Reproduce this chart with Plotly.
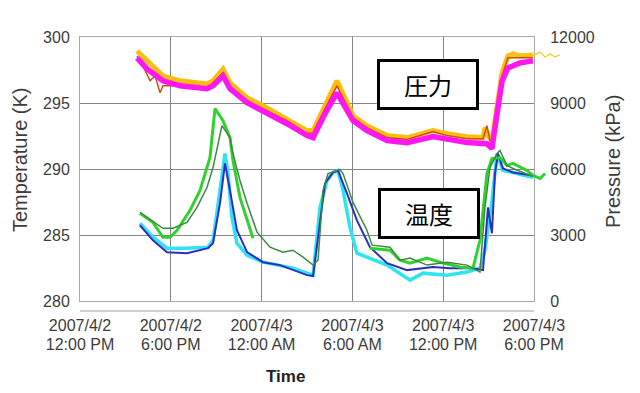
import plotly.graph_objects as go
from datetime import datetime, timedelta

BASE = datetime(2007, 4, 2, 12, 0)

# ---- axis ticks ----
tick_hours = [0, 6, 12, 18, 24, 30]
tick_dates = ["2007/4/2", "2007/4/2", "2007/4/3", "2007/4/3", "2007/4/3", "2007/4/3"]
tick_times = ["12:00 PM", "6:00 PM", "12:00 AM", "6:00 AM", "12:00 PM", "6:00 PM"]
temp_ticks = [280, 285, 290, 295, 300]
pres_ticks = [0, 3000, 6000, 9000, 12000]
pres_labels = ["0", "3000", "6000", "9000", "12000"]

# ---- temperature series (hours since 2007/4/2 12:00 PM, K) ----
blue_h = [3.96, 4.82, 5.75, 7.07, 8.46, 8.79, 9.25, 9.58, 9.91, 10.37, 11.04, 12.09, 13.22, 14.07, 15.00,
          15.40, 15.86, 16.19, 16.72, 17.05, 17.64, 18.30, 19.16, 20.29, 21.61, 23.33, 24.45, 25.97, 26.63,
          26.96, 27.22, 27.42, 27.62, 27.95, 28.61, 29.93]
blue_t = [285.74, 284.60, 283.70, 283.62, 284.00, 284.38, 287.40, 290.42, 288.38, 285.36, 283.70, 282.94,
          282.72, 282.34, 281.96, 281.89, 285.89, 288.91, 289.74, 289.89, 288.15, 286.11, 284.08, 282.87,
          282.34, 282.57, 282.49, 282.49, 282.34, 287.09, 285.13, 289.66, 291.17, 290.04, 289.74, 289.51]

cyan_h = [3.96, 4.82, 5.75, 7.07, 8.46, 8.79, 9.25, 9.58, 9.78, 10.04, 10.37, 11.04, 12.09, 13.22, 14.07,
          15.00, 15.40, 15.86, 16.32, 16.72, 17.05, 17.38, 17.84, 18.30, 18.96, 20.29, 21.81, 22.67, 24.25,
          25.57, 26.43, 26.76, 27.22, 27.56, 27.95, 28.61, 29.93]
cyan_t = [285.89, 284.83, 284.00, 284.00, 284.08, 284.60, 288.38, 291.17, 289.66, 286.34, 284.38, 283.47,
          282.94, 282.72, 282.49, 282.11, 281.96, 287.09, 289.13, 289.74, 289.89, 288.38, 285.58, 283.62,
          283.32, 282.72, 281.58, 282.11, 281.96, 282.19, 282.49, 283.85, 287.62, 291.17, 289.89, 289.74,
          289.36]

dkgreen_h = [3.96, 5.48, 6.15, 7.07, 7.73, 8.39, 8.79, 9.38, 9.91, 10.11, 10.57, 11.04, 11.70, 12.56, 13.41,
             14.07, 14.74, 15.40, 15.73, 16.06, 16.39, 17.18, 17.38, 18.04, 18.96, 19.30, 20.48, 21.15, 21.81,
             22.93, 24.25, 25.57, 26.43, 26.76, 27.09, 27.56, 27.75, 28.22, 28.61, 29.93]
dkgreen_t = [286.72, 285.51, 285.51, 285.96, 287.09, 288.60, 290.11, 293.28, 292.38, 291.17, 289.13, 287.40,
             285.21, 284.08, 283.70, 283.85, 283.32, 282.72, 283.09, 288.38, 289.66, 289.96, 289.66, 287.47,
             285.36, 284.23, 284.08, 283.09, 283.25, 282.72, 282.94, 282.72, 282.19, 287.09, 290.11, 291.17,
             291.40, 290.26, 290.04, 289.43]

green_h = [3.96, 4.82, 5.48, 5.95, 6.41, 7.27, 7.93, 8.59, 8.92, 9.45, 9.91, 10.11, 10.57, 11.04, 11.43, None,
           19.16, 20.48, 21.15, 21.81, 22.93, 23.99, 25.11, 25.97, 26.43, 26.89, 27.22, 27.75, 28.22, 28.61,
           29.54, 29.93, 30.40, 30.73]
green_t = [286.64, 285.96, 284.83, 284.83, 285.36, 286.87, 288.38, 290.87, 294.57, 293.66, 292.38, 290.64,
           287.85, 286.11, 284.75, None, 284.00, 283.85, 283.09, 282.87, 283.25, 282.87, 282.57, 282.49, 284.60,
           289.66, 290.79, 290.87, 290.26, 290.42, 289.89, 289.51, 289.28, 289.66]

# ---- pressure series (hours, kPa) ----
magenta_h = [3.77, 4.43, 5.48, 6.61, 8.39, 8.79, 9.45, 9.91, 11.04, 12.09, 13.68, 15.00, 15.40, 16.19, 16.98,
             18.04, 18.96, 20.29, 21.61, 23.33, 24.25, 25.57, 26.89, 27.22, 27.56, 27.89, 28.28, 29.07, 29.93]
magenta_p = [11052, 10548, 10008, 9780, 9648, 9780, 10236, 9648, 9012, 8652, 8058, 7518, 7428, 8514, 9462,
             8196, 7746, 7290, 7200, 7470, 7380, 7200, 7152, 6930, 8514, 10008, 10596, 10824, 10914]

gold_h = [3.77, 4.43, 5.48, 6.61, 8.39, 8.79, 9.45, 9.91, 11.04, 12.09, 13.68, 15.00, 15.40, 16.19, 16.98,
          18.04, 18.96, 20.29, 21.61, 23.33, 24.25, 25.57, 26.63, 26.76, 26.96, 27.22, 27.56, 27.89, 28.28,
          28.61, 29.07, 29.93]
gold_p = [11364, 10914, 10236, 10008, 9870, 10008, 10548, 9918, 9240, 8874, 8286, 7746, 7746, 8874, 10008,
          8424, 7968, 7518, 7428, 7746, 7608, 7470, 7428, 7878, 7518, 7290, 8874, 10368, 11142, 11232, 11142,
          11184]

red_h = [3.77, 4.16, 4.63, 4.96, 5.29, 5.48, 6.61, 8.39, 9.45, 9.91, 11.04, 12.09, 13.68, 15.00, 15.40, 16.19,
         16.98, 18.04, 18.96, 20.29, 21.61, 23.33, 24.25, 25.57, 26.63, 26.89, 27.09, 27.22, 27.56, 27.89,
         28.28, 29.07, 29.93]
red_p = [11142, 10686, 10008, 10236, 9462, 9780, 9780, 9648, 10368, 9648, 9102, 8742, 8196, 7608, 7650, 8742,
         9780, 8334, 7878, 7428, 7338, 7698, 7518, 7380, 7380, 7968, 7290, 7062, 8652, 10236, 11052, 11052,
         11052]

yellow_h = [28.28, 29.07, 29.93, 30.40, 30.73, 31.06, 31.39, 31.72]
yellow_p = [11142, 11232, 11142, 11322, 11094, 11232, 11094, 11184]


def to_time(hours):
    return [BASE + timedelta(hours=h) if h is not None else None for h in hours]


FRAME = 454 / 482          # fraction of plotting width covered by the framed chart
SPAN_H = 30                # hours shown inside the frame
FONT = "Liberation Sans, Arial, sans-serif"
TICK = dict(family=FONT, size=16, color="#3c3c3c")
GRID = "#858585"
TXT = "#3c3c3c"

fig = go.Figure()


def add(h, v, color, width, xa, ya):
    fig.add_trace(go.Scatter(
        x=to_time(h), y=v, mode="lines",
        line=dict(color=color, width=width),
        xaxis=xa, yaxis=ya,
        showlegend=False, connectgaps=False, hoverinfo="skip"))


# temperatures inside the frame
add(cyan_h, cyan_t, "#2fe3f3", 3.5, "x", "y")
add(blue_h, blue_t, "#2b2fbf", 2, "x", "y")
# pressures inside the frame
add(gold_h, gold_p, "#fcbc10", 5, "x2", "y2")
add(red_h, red_p, "#cf4a14", 1.5, "x2", "y2")
add(magenta_h, magenta_p, "#ff16f0", 5.5, "x2", "y2")
# series that run past the right edge of the frame
add(green_h, green_t, "#2fd12f", 3, "x3", "y3")
add(dkgreen_h, dkgreen_t, "#3d8a3d", 1.5, "x3", "y3")
add(yellow_h, yellow_p, "#e6cf10", 1.2, "x3", "y4")

tickvals = to_time(tick_hours)

fig.update_layout(
    width=632, height=385,
    margin=dict(l=72, r=78, t=29, b=92),
    paper_bgcolor="white", plot_bgcolor="rgba(0,0,0,0)",
    font=dict(family=FONT, size=16, color=TXT),
    showlegend=False,
    xaxis=dict(
        domain=[0, FRAME], type="date", range=[BASE, BASE + timedelta(hours=SPAN_H)],
        tickmode="array", tickvals=tickvals, ticktext=tick_dates,
        showgrid=True, gridcolor=GRID, gridwidth=1,
        showline=True, mirror=True, linecolor="#a8a8a8", linewidth=1,
        ticks="outside", ticklen=10, tickcolor="rgba(0,0,0,0)",
        zeroline=False, anchor="y", automargin=False, tickfont=TICK),
    xaxis2=dict(
        overlaying="x", side="bottom", type="date", range=[BASE, BASE + timedelta(hours=SPAN_H)],
        tickmode="array", tickvals=tickvals, ticktext=tick_times,
        showgrid=False, showline=False, zeroline=False,
        ticks="outside", ticklen=29, tickcolor="rgba(0,0,0,0)",
        anchor="y", automargin=False, tickfont=TICK),
    yaxis=dict(
        domain=[0, 1], range=[280, 300], tickmode="array", tickvals=temp_ticks,
        showgrid=True, gridcolor=GRID, gridwidth=1,
        showline=True, mirror=True, linecolor="#a8a8a8", linewidth=1,
        ticks="outside", ticklen=6, tickcolor="rgba(0,0,0,0)",
        zeroline=False, anchor="x", automargin=False, tickfont=TICK),
    yaxis2=dict(
        overlaying="y", side="right", anchor="free", position=FRAME,
        range=[0, 12000], tickmode="array", tickvals=pres_ticks, ticktext=pres_labels,
        showgrid=False, showline=False, zeroline=False,
        ticks="outside", ticklen=12, tickcolor="rgba(0,0,0,0)", automargin=False, tickfont=TICK),
    xaxis3=dict(
        domain=[0, 1], type="date",
        range=[BASE, BASE + timedelta(hours=SPAN_H / FRAME)],
        visible=False, anchor="y3", showgrid=False, zeroline=False),
    yaxis3=dict(domain=[0, 1], range=[280, 300], visible=False, anchor="x3",
                showgrid=False, zeroline=False),
    yaxis4=dict(overlaying="y3", range=[0, 12000], visible=False, anchor="x3",
                showgrid=False, zeroline=False),
)

# bottom axis rule drawn a little below the frame
fig.add_shape(type="line", xref="paper", yref="paper", x0=0, x1=FRAME, y0=-10 / 264, y1=-10 / 264,
              line=dict(color="#a0a0a0", width=1))

# axis titles
fig.add_annotation(text="Time", xref="paper", yref="paper", x=(285 - 80) / 482, y=(301 - 376) / 264,
                   showarrow=False, xanchor="center", yanchor="middle",
                   font=dict(family=FONT, size=17, color="#222222", weight="bold"))
fig.add_annotation(text="Temperature (K)", xref="paper", yref="paper", x=(20 - 80) / 482, y=(301 - 160) / 264,
                   showarrow=False, textangle=-90, xanchor="center", yanchor="middle",
                   font=dict(family=FONT, size=20, color=TXT))
fig.add_annotation(text="Pressure (kPa)", xref="paper", yref="paper", x=(613 - 80) / 482, y=(301 - 162) / 264,
                   showarrow=False, textangle=-90, xanchor="center", yanchor="middle",
                   font=dict(family=FONT, size=20, color=TXT))

# labelled boxes
for label, cx, cy in [("圧力", 428, 84.5), ("温度", 429, 213)]:
    fig.add_annotation(text=label, xref="paper", yref="paper",
                       x=(cx - 80) / 482, y=(301 - cy) / 264,
                       showarrow=False, xanchor="center", yanchor="middle",
                       width=96, height=45, borderpad=0, borderwidth=3,
                       bordercolor="black", bgcolor="white",
                       font=dict(family="Noto Sans CJK JP", size=24, color="black"))

fig.write_html("out.html")
